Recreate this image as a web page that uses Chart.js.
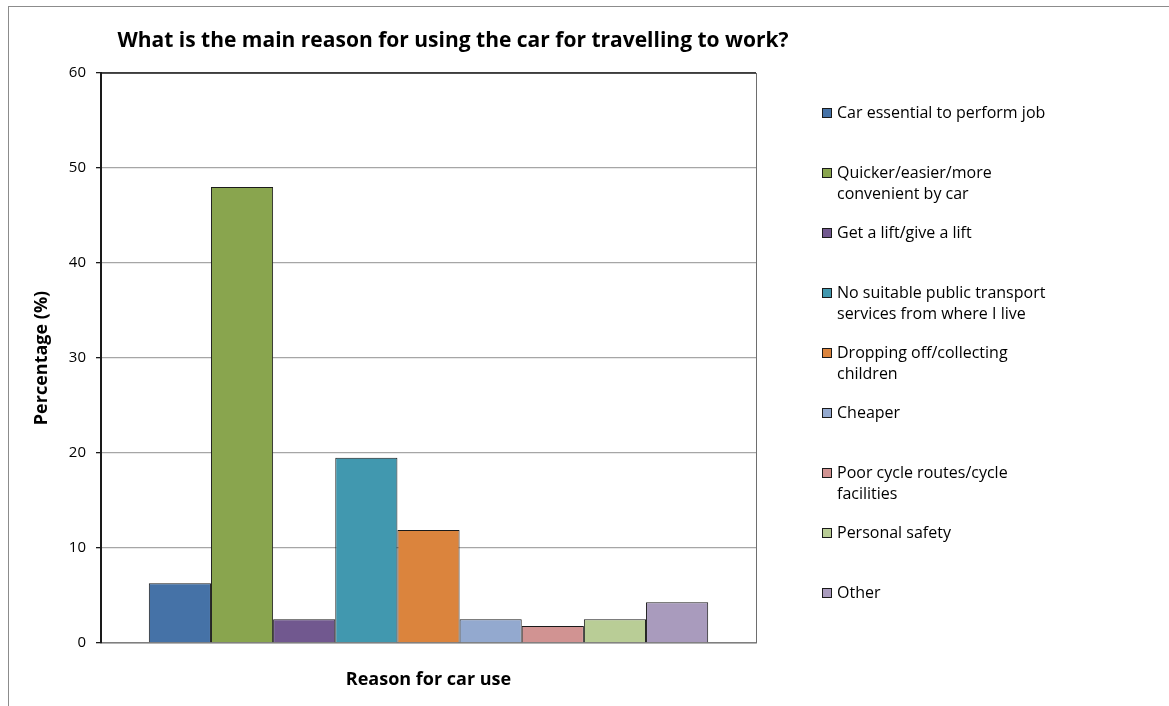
<!DOCTYPE html>
<html>
<head>
<meta charset="utf-8">
<script src="https://cdn.jsdelivr.net/npm/chart.js@4"></script>
<style>
  body { margin: 0; background: #fff; }
</style>
</head>
<body>
<canvas id="chart" width="1169" height="706"></canvas>
<script>
var reasons = [
    'Car essential to perform job',
    'Quicker/easier/more\nconvenient by car',
    'Get a lift/give a lift',
    'No suitable public transport\nservices from where I live',
    'Dropping off/collecting\nchildren',
    'Cheaper',
    'Poor cycle routes/cycle\nfacilities',
    'Personal safety',
    'Other'
];
var percentages = [6.3, 48.0, 2.5, 19.5, 11.9, 2.5, 1.8, 2.5, 4.3];
var barColors = ['#4572A7', '#89A54E', '#71588F', '#4198AF', '#DB843D', '#93A9CF', '#D19392', '#B9CD96', '#A99BBD'];
var yTicks = [0, 10, 20, 30, 40, 50, 60];

var FONT = '"Open Sans", Lato, sans-serif';

var datasets = reasons.map(function (r, i) {
    return {
        label: r,
        data: [percentages[i]],
        backgroundColor: barColors[i],
        borderColor: '#1a1a1a',
        borderWidth: 1,
        barPercentage: 1,
        categoryPercentage: 0.854
    };
});

// frame, title and the hand-placed legend, like the Excel original
var decorations = {
    id: 'decorations',
    beforeDraw: function (chart) {
        var c = chart.ctx;
        c.save();
        c.fillStyle = '#fff';
        c.fillRect(0, 0, chart.width, chart.height);
        c.strokeStyle = '#8c8c8c';
        c.lineWidth = 1;
        c.strokeRect(8.5, 6.5, 2000, 2000);
        c.restore();
    },
    afterDraw: function (chart) {
        var c = chart.ctx;
        var a = chart.chartArea;
        c.save();
        // plot area box
        c.strokeStyle = '#1a1a1a';
        c.lineWidth = 1.5;
        c.beginPath();
        c.moveTo(a.left, a.top);
        c.lineTo(a.right, a.top);
        c.stroke();
        c.strokeStyle = '#6e6e6e';
        c.lineWidth = 1;
        c.beginPath();
        c.moveTo(a.right + 0.5, a.top);
        c.lineTo(a.right + 0.5, a.bottom);
        c.stroke();

        // title
        c.fillStyle = '#000';
        c.font = 'bold 21px ' + FONT;
        c.textAlign = 'center';
        c.textBaseline = 'middle';
        c.fillText('What is the main reason for using the car for travelling to work?', 453, 41);

        // legend
        c.font = '16px ' + FONT;
        c.textAlign = 'left';
        chart.data.datasets.forEach(function (ds, i) {
            var y = 113 + 60 * i;
            c.fillStyle = ds.backgroundColor;
            c.fillRect(822, y - 5, 10, 10);
            c.strokeStyle = '#1a1a1a';
            c.lineWidth = 1;
            c.strokeRect(822.5, y - 4.5, 9, 9);
            c.fillStyle = '#000';
            ds.label.split('\n').forEach(function (line, k) {
                c.fillText(line, 837, y + k * 21.5);
            });
        });
        c.restore();
    }
};

var ctx = document.getElementById('chart').getContext('2d');
var chart = new Chart(ctx, {
    type: 'bar',
    data: {
        labels: [''],
        datasets: datasets
    },
    options: {
        responsive: false,
        animation: false,
        layout: {
            padding: { left: 0, top: 73, right: 413, bottom: 0 }
        },
        plugins: {
            legend: { display: false },
            title: { display: false },
            tooltip: { enabled: false }
        },
        scales: {
            x: {
                grid: { display: false },
                border: { color: '#7f7f7f', width: 1.5 },
                ticks: { display: false },
                title: {
                    display: true,
                    text: 'Reason for car use',
                    color: '#000',
                    font: { family: FONT, size: 18, weight: 'bold' },
                    padding: { top: 0, bottom: 15 }
                },
                afterFit: function (s) { s.height = 63; }
            },
            y: {
                min: 0,
                max: 60,
                afterBuildTicks: function (s) {
                    s.ticks = yTicks.map(function (v) { return { value: v }; });
                },
                grid: {
                    color: '#a6a6a6',
                    tickColor: '#1a1a1a',
                    tickLength: 5,
                    lineWidth: 1.3
                },
                border: { color: '#1a1a1a', width: 2 },
                ticks: {
                    color: '#000',
                    padding: 10,
                    font: { family: FONT, size: 15 }
                },
                title: {
                    display: true,
                    text: 'Percentage (%)',
                    color: '#000',
                    font: { family: FONT, size: 18, weight: 'bold' },
                    padding: { top: 31, bottom: 0 }
                },
                afterFit: function (s) { s.width = 101; }
            }
        }
    },
    plugins: [decorations]
});
</script>
</body>
</html>
